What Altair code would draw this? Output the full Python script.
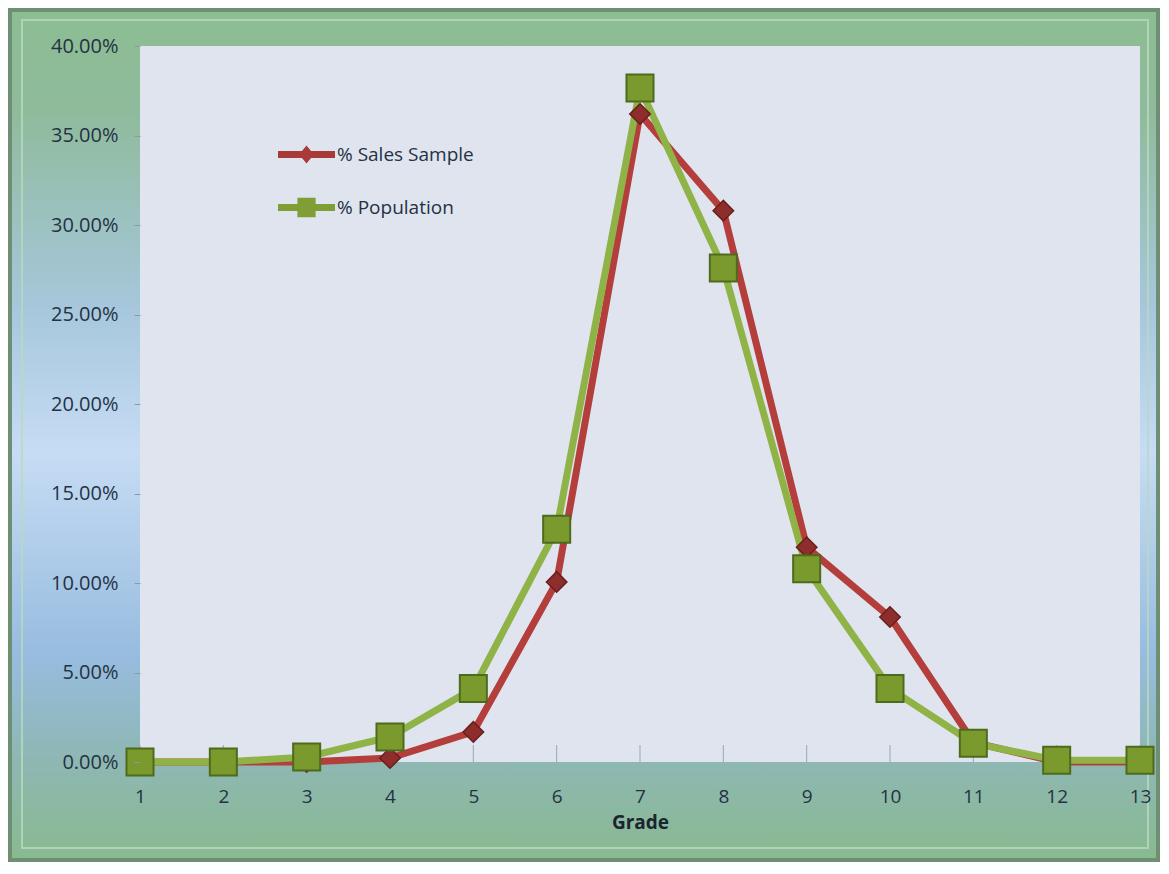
import altair as alt
import pandas as pd

grades = list(range(1, 14))
sales_sample = [0.0, 0.0, 0.0, 0.0022, 0.0168, 0.1006, 0.3620, 0.3080, 0.1200, 0.0810, 0.0110, 0.0, 0.0]
population = [0.0, 0.0, 0.0028, 0.0140, 0.0410, 0.1300, 0.3765, 0.2760, 0.1080, 0.0410, 0.0105, 0.0010, 0.0010]
series_names = ["% Sales Sample", "% Population"]
y_ticks = [0.0, 0.05, 0.10, 0.15, 0.20, 0.25, 0.30, 0.35, 0.40]

rows = []
for g, v in zip(grades, sales_sample):
    rows.append({"Grade": g, "Series": series_names[0], "Value": v})
for g, v in zip(grades, population):
    rows.append({"Grade": g, "Series": series_names[1], "Value": v})
df = pd.DataFrame(rows)

W, H = 1000, 716
PAD = {"left": 132, "top": 38, "right": 20, "bottom": 100}
FONT = "Open Sans"
TXT = "#243244"
RED, GREEN = "#b43e3c", "#8fb346"

x_scale = alt.Scale(domain=[1, 13], nice=False, zero=False)
y_scale = alt.Scale(domain=[0, 0.4], nice=False)

frame_grad = alt.Gradient(
    gradient="linear", x1=0, y1=0, x2=0, y2=1,
    stops=[
        alt.GradientStop(offset=0.0, color="#8cbd92"),
        alt.GradientStop(offset=0.12, color="#8fbb9c"),
        alt.GradientStop(offset=0.35, color="#a6c7dc"),
        alt.GradientStop(offset=0.52, color="#c6dcf4"),
        alt.GradientStop(offset=0.76, color="#97bcdf"),
        alt.GradientStop(offset=0.88, color="#8eb7b4"),
        alt.GradientStop(offset=1.0, color="#89ba8f"),
    ],
)

one = alt.Data(values=[{}])
frame = alt.Chart(one).mark_rect(fill=frame_grad, stroke="#6f8f74", strokeWidth=4).encode(
    x=alt.value(-130), x2=alt.value(W + 18), y=alt.value(-36), y2=alt.value(H + 98)
)
bevel = alt.Chart(one).mark_rect(fill="transparent", stroke="#b9dabc", strokeWidth=2, opacity=0.8).encode(
    x=alt.value(-118), x2=alt.value(W + 8), y=alt.value(-26), y2=alt.value(H + 86)
)
plot_bg = alt.Chart(one).mark_rect(fill="#dfe4ef").encode(
    x=alt.value(0), x2=alt.value(W), y=alt.value(0), y2=alt.value(H)
)

sales_shape = "M-1,-0.12H1V0.12H-1Z M0,-0.32L0.26,0L0,0.32L-0.26,0Z"
pop_shape = "M-1,-0.12H1V0.12H-1Z M-0.32,-0.34H0.32V0.34H-0.32Z"
legend = alt.Legend(
    orient="none", legendX=138, legendY=80, title=None, padding=0, rowPadding=14,
    labelFont=FONT, labelFontSize=19, labelColor=TXT, labelOffset=2,
    symbolSize=3249, symbolOpacity=1, symbolStrokeWidth=0, zindex=3,
)

x_enc = alt.X(
    "Grade:Q", scale=x_scale, title="Grade",
    axis=alt.Axis(values=grades, format="d", ticks=False, domain=False, grid=False,
                  labelFlush=False, labelFont=FONT, labelFontSize=19, labelColor=TXT,
                  labelPadding=25,
                  titleFont=FONT, titleFontSize=19, titleFontWeight="bold", titleColor="#1a2530",
                  titlePadding=7, zindex=2),
)
y_enc = alt.Y(
    "Value:Q", scale=y_scale, title=None,
    axis=alt.Axis(values=y_ticks, format=".2%", grid=False, domain=False,
                  tickSize=6, tickColor="#8d9aa8", labelFont=FONT, labelFontSize=20,
                  labelColor=TXT, labelPadding=16, zindex=2),
)
xq = alt.X("Grade:Q", scale=x_scale)
yq = alt.Y("Value:Q", scale=y_scale)

base = alt.Chart(df)
xticks = alt.Chart(pd.DataFrame({"Grade": grades})).mark_rule(color="#9aa6b4", strokeWidth=1).encode(
    x=xq, y=alt.value(H - 17), y2=alt.value(H)
)
line_sales = base.transform_filter(alt.datum.Series == series_names[0]).mark_line(
    strokeWidth=7, color=RED).encode(x=x_enc, y=y_enc)
line_pop = base.transform_filter(alt.datum.Series == series_names[1]).mark_line(
    strokeWidth=7, color=GREEN).encode(x=x_enc, y=y_enc)
pts_sales = base.transform_filter(alt.datum.Series == series_names[0]).mark_point(
    shape="diamond", filled=True, size=420, fill="#8e2e2c", stroke="#6a1e1c", strokeWidth=1.5, opacity=1
).encode(x=xq, y=yq)
pts_pop = base.transform_filter(alt.datum.Series == series_names[1]).mark_point(
    shape="square", filled=True, size=730, fill="#7a9a2e", stroke="#4e6a1c", strokeWidth=2, opacity=1
).encode(x=xq, y=yq)
legend_layer = base.mark_point(filled=True, opacity=0, size=1).encode(
    x=xq, y=yq,
    color=alt.Color("Series:N", scale=alt.Scale(domain=series_names, range=["#a83a38", "#7f9f35"]), legend=legend),
    shape=alt.Shape("Series:N", scale=alt.Scale(domain=series_names, range=[sales_shape, pop_shape]), legend=legend),
)

chart = alt.layer(
    frame, bevel, plot_bg, xticks, line_sales, line_pop, pts_sales, pts_pop, legend_layer
).properties(
    width=W, height=H, padding=PAD, autosize=alt.AutoSizeParams(type="none")
).configure_view(stroke=None).configure(background="#8cbb93")

chart.save("out.html", embed_options={"renderer": "svg", "actions": False})
